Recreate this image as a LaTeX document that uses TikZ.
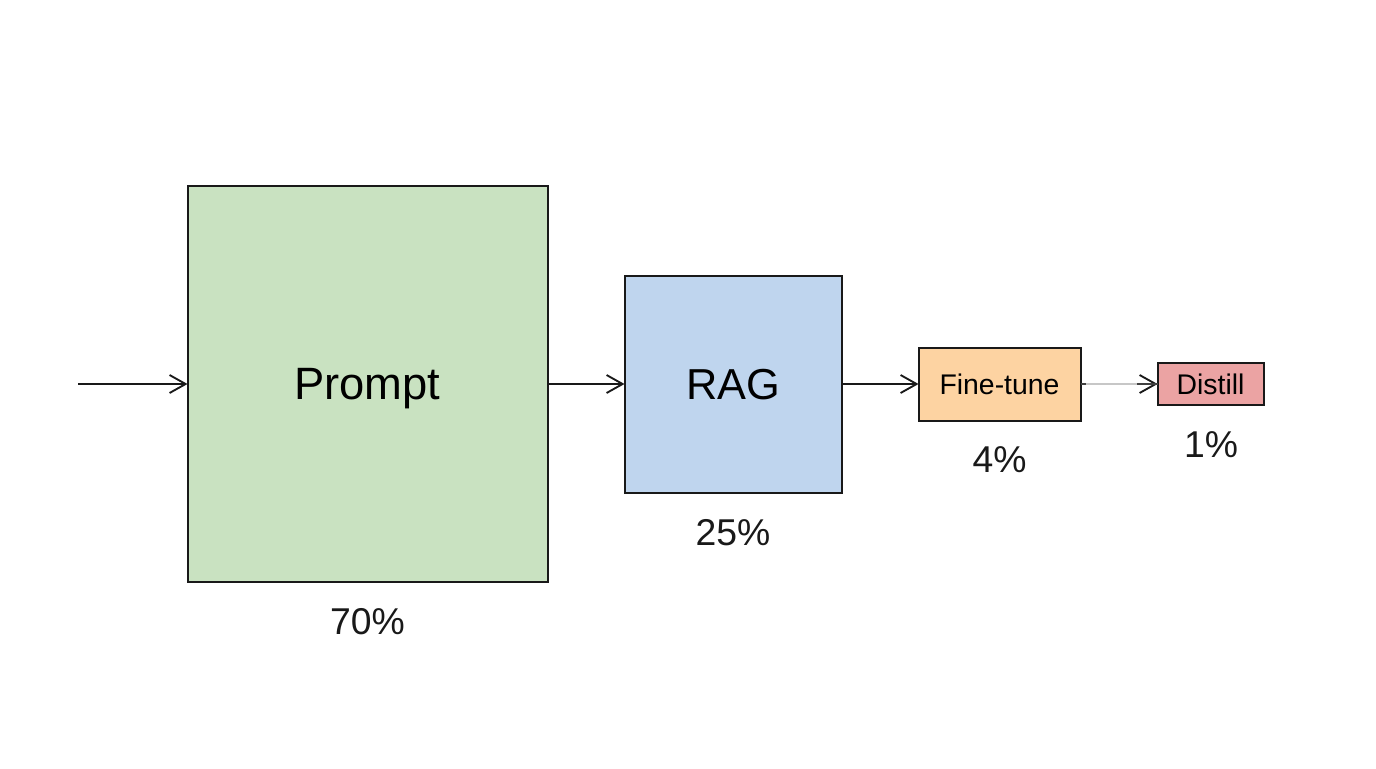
\documentclass[tikz,border=0pt]{standalone}
\usepackage{fontspec}
\setmainfont{Liberation Sans}
\usetikzlibrary{arrows.meta}

\definecolor{promptgreen}{HTML}{C9E2C1}
\definecolor{ragblue}{HTML}{BFD5EE}
\definecolor{tuneorange}{HTML}{FDD3A2}
\definecolor{distillred}{HTML}{EBA3A3}

\tikzset{
    blockbox/.style={draw=black!90, line width=1.5pt, inner sep=0pt, outer sep=0pt, text depth=0pt},
    flowarrow/.style={-{Straight Barb[length=12pt, width=13.5pt, line width=1.4pt, color=black!90]}, line width=1.4pt, draw=black!90},
    sharelabel/.style={font=\fontsize{28}{28}\selectfont, text=black!90}
}

\begin{document}
\begin{tikzpicture}[x=0.75pt, y=-0.75pt]
    \useasboundingbox (0, 0) rectangle (1376, 768);

    % Blocchi
    \node[blockbox, fill=promptgreen, minimum width=270pt, minimum height=297pt, font=\fontsize{34}{34}\selectfont] (prompt) at (367.5, 384) {Prompt};
    \node[blockbox, fill=ragblue, minimum width=162.75pt, minimum height=162.75pt, font=\fontsize{32.5}{32.5}\selectfont] (rag) at (733, 384) {RAG};
    \node[blockbox, fill=tuneorange, minimum width=121.5pt, minimum height=54.75pt, font=\fontsize{21.3}{21.3}\selectfont] (tune) at (999.5, 384) {Fine-tune};
    \node[blockbox, fill=distillred, minimum width=79.5pt, minimum height=31.5pt, font=\fontsize{21.3}{21.3}\selectfont] (distill) at (1210.5, 384) {Distill};

    % Percentuali
    \node[sharelabel] (promptshare) at (367.5, 622) {70\%};
    \node[sharelabel] (ragshare) at (733, 533) {25\%};
    \node[sharelabel] (tuneshare) at (999.5, 460) {4\%};
    \node[sharelabel] (distillshare) at (1211, 444.5) {1\%};

    % Frecce
    \coordinate (entry) at (78, 384);
    \draw[flowarrow] (entry) -- (prompt.west);
    \draw[flowarrow] (prompt.east) -- (rag.west);
    \draw[flowarrow] (rag.east) -- (tune.west);
    \draw[flowarrow, draw=black!22] (tune.east) -- (distill.west);
    \draw[line width=1.4pt, draw=black!75] (tune.east) -- ++(5, 0);
    \draw[line width=1.4pt, draw=black!75] (distill.west) -- ++(-21, 0);
\end{tikzpicture}
\end{document}
